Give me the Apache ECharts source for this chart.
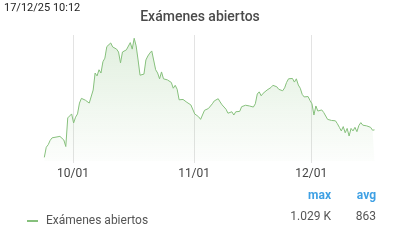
<!DOCTYPE html>
<html>
<head>
<meta charset="utf-8">
<script src="https://cdn.jsdelivr.net/npm/echarts@6/dist/echarts.min.js"></script>
<style>html,body{margin:0;padding:0;background:#fff}#c{width:400px;height:240px}</style>
</head>
<body>
<div id="c"></div>
<script>
// Sampling: one value every 12 hours, starting 2025-09-23 16:00
const startTime = [2025, 8, 23, 16];
const stepHours = 12;
const seriesName = 'Exámenes abiertos';
const titleText = 'Exámenes abiertos';
const timestampText = '17/12/25 10:12';
const statHeaders = ['max', 'avg'];
const statValues = ['1.029 K', '863'];
const values = [
  700, 728, 735, 747, 754, 759, 756, 761, 758, 757,
  748, 730, 809, 811, 820, 795, 811, 820, 850, 863,
  866, 858, 853, 850, 848, 886, 933, 925, 942, 933,
  964, 974, 1006, 1006, 1016, 1005, 1001, 999, 991, 961,
  991, 991, 997, 1002, 1017, 999, 1029, 1008, 969, 927,
  926, 930, 969, 980, 988, 994, 999, 942, 933, 917,
  936, 917, 919, 914, 915, 907, 891, 899, 888, 859,
  863, 860, 859, 852, 853, 845, 848, 820, 822, 812,
  805, 809, 830, 828, 835, 831, 848, 856, 857, 862,
  853, 845, 841, 833, 822, 817, 826, 817, 826, 830,
  827, 840, 837, 844, 842, 842, 839, 839, 848, 875,
  881, 870, 877, 877, 886, 888, 893, 899, 894, 895,
  888, 884, 884, 892, 907, 917, 919, 918, 908, 917,
  900, 891, 874, 867, 866, 868, 857, 848, 817, 842,
  828, 823, 831, 824, 820, 805, 805, 802, 804, 801,
  793, 783, 773, 785, 768, 780, 759, 780, 773, 783,
  771, 788, 796, 789, 788, 787, 791, 783, 775, 776
];

const t0 = new Date(startTime[0], startTime[1], startTime[2], startTime[3]).getTime();
const data = values.map((v, i) => [t0 + i * stepHours * 3600 * 1000, v]);

const chart = echarts.init(document.getElementById('c'), null, {renderer: 'canvas'});
const FONT = 'Roboto';
chart.setOption({
  animation: false,
  title: {
    text: titleText, left: 'center', top: 5,
    textStyle: {fontFamily: FONT, fontSize: 14, fontWeight: 500, color: '#4a4a4a'}
  },
  legend: {
    show: true, left: 22, top: 210, itemWidth: 11, itemHeight: 2, itemGap: 10,
    icon: 'rect',
    textStyle: {fontFamily: FONT, fontSize: 12, color: '#555', padding: [0, 0, 0, 3]},
    data: [seriesName]
  },
  graphic: [
    {type: 'text', left: 4, top: 3, style: {text: timestampText, font: '11px ' + FONT, fill: '#222'}},
    {type: 'text', right: 69, top: 190, style: {text: statHeaders[0], font: 'bold 12px ' + FONT, fill: '#3ea0e4', align: 'right'}},
    {type: 'text', right: 24, top: 190, style: {text: statHeaders[1], font: 'bold 12px ' + FONT, fill: '#3ea0e4', align: 'right'}},
    {type: 'text', right: 69, top: 211, style: {text: statValues[0], font: '12px ' + FONT, fill: '#555', align: 'right'}},
    {type: 'text', right: 24, top: 211, style: {text: statValues[1], font: '12px ' + FONT, fill: '#555', align: 'right'}}
  ],
  grid: {left: 44.3, right: 25.5, top: 35, bottom: 79},
  xAxis: {
    type: 'time',
    min: data[0][0], max: data[data.length - 1][0],
    splitNumber: 3,
    axisLine: {show: false},
    axisTick: {show: true, length: 2, lineStyle: {color: '#e3e3e3'}},
    splitLine: {show: true, showMinLine: false, showMaxLine: false, lineStyle: {color: '#e3e3e3', width: 1}},
    axisLabel: {
      formatter: '{MM}/{dd}', fontFamily: FONT, fontSize: 12, color: '#444', margin: 7,
      showMinLabel: false, showMaxLabel: false
    },
    minorTick: {show: false}
  },
  yAxis: {
    type: 'value', min: 690, max: 1038, show: false, splitLine: {show: false}
  },
  series: [{
    name: seriesName, type: 'line', data: data, showSymbol: false, symbol: 'none',
    lineStyle: {color: '#86c07c', width: 1},
    itemStyle: {color: '#86c07c'},
    areaStyle: {
      color: new echarts.graphic.LinearGradient(0, 0, 0, 1, [
        {offset: 0, color: 'rgba(134,192,124,0.35)'},
        {offset: 1, color: 'rgba(134,192,124,0.03)'}
      ])
    }
  }]
});
</script>
</body>
</html>
